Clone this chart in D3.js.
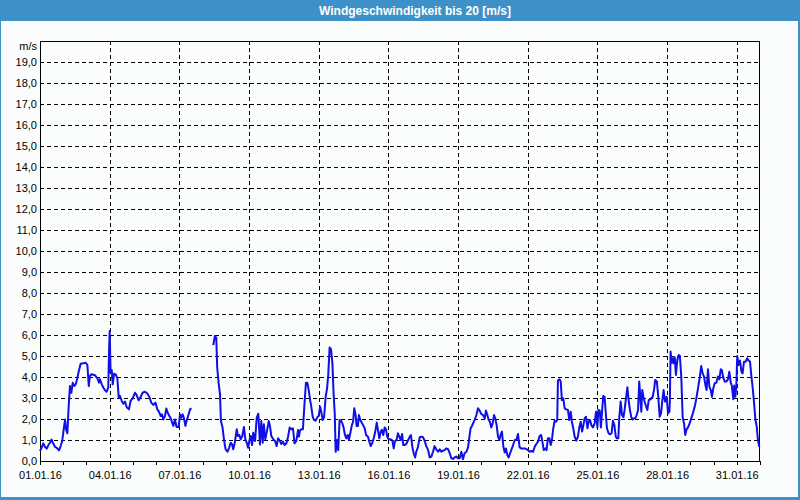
<!DOCTYPE html>
<html><head><meta charset="utf-8">
<script src="https://cdn.jsdelivr.net/npm/d3@7"></script>
<style>
body{margin:0;background:#fff}
svg{display:block}
text{font-family:"Liberation Sans",Arial,sans-serif}
</style>
</head><body>
<svg id="c" width="800" height="500"></svg>
<script>
const title = "Windgeschwindigkeit bis 20 [m/s]";
const unitLabel = "m/s";
const startDate = "01.01.16";
const endDate = "01.02.16";
const yTickValues = [0,1,2,3,4,5,6,7,8,9,10,11,12,13,14,15,16,17,18,19];
const xTickLabels = ["01.01.16","04.01.16","07.01.16","10.01.16","13.01.16","16.01.16","19.01.16","22.01.16","25.01.16","28.01.16","31.01.16"];
// days since 01.01.16 00:00 (null speed = no data)
const days = [
0.00,0.07,0.14,0.22,0.29,0.36,0.43,0.50,0.57,0.65,0.72,0.82,0.89,0.96,1.03,1.08,1.12,1.18,1.23,1.29,
1.35,1.41,1.48,1.55,1.61,1.68,1.75,1.87,1.97,2.04,2.10,2.15,2.22,2.37,2.47,2.54,2.58,2.66,2.73,2.80,
2.87,2.94,2.97,3.00,3.04,3.09,3.13,3.19,3.27,3.33,3.39,3.44,3.52,3.59,3.66,3.73,3.83,3.90,3.99,4.09,
4.16,4.25,4.33,4.42,4.52,4.62,4.71,4.79,4.88,4.97,5.05,5.12,5.20,5.25,5.31,5.38,5.44,5.50,5.57,5.63,
5.68,5.74,5.81,5.88,5.97,6.03,6.08,6.14,6.20,6.26,6.31,6.39,6.46,6.52,7.00,
7.46,7.53,7.59,7.63,7.69,7.75,7.79,7.86,7.92,7.99,8.07,8.14,8.21,8.27,8.32,8.38,8.47,8.52,8.58,8.64,
8.71,8.78,8.84,8.90,8.96,9.01,9.07,9.13,9.18,9.26,9.33,9.40,9.47,9.53,9.59,9.64,9.70,9.76,9.85,9.90,
9.96,10.05,10.12,10.19,
10.25,10.32,10.39,10.46,10.53,10.61,10.68,10.75,10.82,10.89,10.96,11.04,11.11,11.15,11.19,11.25,11.32,11.38,11.45,11.51,
11.57,11.63,11.68,11.74,11.80,11.87,11.94,12.00,12.06,12.11,12.17,12.23,12.30,12.36,12.41,12.47,12.53,12.59,12.64,12.69,
12.73,12.79,12.84,12.90,12.96,13.02,13.07,13.13,13.19,13.25,13.30,13.36,13.42,13.48,13.53,13.59,13.63,13.69,13.73,13.79,
13.85,13.91,13.98,14.04,14.12,14.18,14.24,14.31,14.38,14.44,14.50,14.55,14.61,14.67,14.72,14.78,14.84,14.90,14.95,15.01,
15.10,15.17,15.23,15.28,15.36,15.41,15.47,15.53,15.59,15.64,15.70,15.77,15.84,15.92,15.97,16.03,16.09,16.15,16.20,16.27,
16.35,16.42,16.49,16.56,16.63,16.71,16.78,16.85,16.92,16.99,17.06,17.14,17.21,17.28,17.35,17.42,17.49,17.57,17.64,17.71,
17.78,17.85,17.92,18.00,18.07,18.14,18.21,18.28,18.36,18.43,18.49,18.54,18.60,18.66,18.71,18.79,18.86,18.93,19.00,19.07,
19.15,19.20,19.26,19.32,19.37,19.43,19.49,19.55,19.60,19.66,19.72,19.78,19.83,19.89,19.95,20.01,20.06,20.12,20.18,20.24,
20.29,20.37,20.44,20.51,
20.58,20.65,20.72,20.80,20.87,20.94,21.01,21.08,21.15,21.23,21.30,21.37,21.44,21.51,21.58,21.63,21.69,21.76,21.81,21.87,
21.93,21.99,22.04,22.10,22.16,22.22,22.27,22.30,22.37,22.42,22.47,22.53,22.59,22.66,22.73,22.79,22.85,22.90,22.96,23.02,
23.09,23.16,23.22,23.28,23.34,23.39,23.45,23.51,23.57,23.62,23.68,23.74,23.81,23.88,23.94,24.00,24.04,24.10,24.15,24.21,
24.25,24.31,24.35,24.41,24.48,24.54,24.61,24.67,24.73,24.79,24.84,24.90,24.94,25.00,25.06,25.12,25.17,25.23,25.29,25.34,
25.40,25.46,25.52,25.57,25.63,25.69,25.75,25.80,25.85,25.89,25.93,25.98,26.03,26.09,26.15,26.21,26.29,26.38,26.44,26.49,
26.56,26.62,26.68,26.74,26.79,26.85,26.91,26.98,27.04,27.10,27.12,27.15,27.20,27.24,27.28,27.33,27.38,27.44,27.50,27.55,
27.61,27.67,27.73,27.78,27.84,27.90,27.97,28.04,28.11,28.19,28.26,28.33,28.40,28.47,28.53,28.59,28.65,28.70,28.76,28.82,
28.88,28.93,28.99,29.05,29.12,29.19,29.25,29.31,29.36,29.41,29.48,29.55,29.62,29.68,29.74,29.79,29.85,29.89,29.94,29.98,
30.02,30.08,30.14,30.20,30.25,30.31,30.38,30.45,30.51,30.57,30.63,30.68,30.74,30.80,30.86,30.91,30.97
];
// wind speed in m/s
const speeds = [
0.48,0.63,0.84,0.67,0.59,0.76,0.87,1.02,0.83,0.67,0.63,0.51,0.71,0.98,1.59,1.98,1.50,1.32,2.50,3.57,
3.25,3.73,3.57,3.68,3.97,4.32,4.63,4.65,4.68,4.57,3.57,4.05,4.13,4.08,3.94,3.73,3.89,3.65,3.49,3.37,
3.30,3.49,5.08,6.19,4.20,4.32,3.65,4.16,4.10,3.94,3.02,3.10,2.86,2.73,2.83,2.57,2.46,2.86,2.98,3.25,
3.14,2.89,3.05,3.25,3.30,3.21,3.05,2.78,2.67,2.78,2.46,2.35,2.14,2.22,1.98,2.14,2.50,2.30,2.14,2.03,
1.86,1.67,1.98,1.62,1.62,2.22,2.06,2.22,2.03,1.67,1.90,2.19,2.46,2.51,null,
5.52,5.95,5.87,4.44,3.73,3.17,1.90,1.59,1.03,0.56,0.44,0.63,0.87,0.79,0.56,0.83,1.51,1.19,1.24,1.03,
1.19,1.62,1.03,0.87,0.63,0.95,1.19,0.76,1.35,0.95,2.06,2.25,0.79,1.90,0.87,1.75,1.03,1.35,1.90,1.67,
1.19,1.03,0.95,0.71,
1.08,0.97,0.81,0.92,0.76,0.84,1.16,1.60,1.51,1.56,0.84,0.97,1.48,1.16,1.44,1.51,1.51,2.59,3.73,3.73,
3.38,2.90,2.59,2.11,1.95,1.92,2.08,2.14,2.59,2.35,1.95,2.08,3.06,3.46,4.10,5.41,5.32,4.65,3.22,2.27,
0.44,1.00,0.52,1.95,1.92,1.79,1.60,1.24,1.08,1.24,1.00,1.32,1.67,1.87,2.51,2.19,1.67,1.67,2.19,1.95,
1.83,1.71,1.56,1.24,1.16,0.92,0.71,0.87,1.13,1.44,1.83,1.48,1.08,1.40,1.48,1.24,1.60,1.51,1.16,1.03,
1.03,0.97,0.60,0.92,1.03,1.32,1.16,1.00,1.29,0.76,0.76,0.81,0.97,1.16,1.24,0.68,0.37,0.17,0.44,0.65,
1.13,1.16,1.13,0.97,0.71,0.52,0.17,0.21,0.44,0.71,0.56,0.44,0.56,0.44,0.49,0.52,0.60,0.56,0.37,0.13,
0.10,0.17,0.21,0.13,0.13,0.44,0.08,0.37,0.44,0.65,1.16,1.56,1.67,1.83,1.95,2.19,2.51,2.40,2.24,2.19,
2.03,2.40,2.19,1.95,1.87,1.60,1.79,2.19,2.03,1.71,1.16,1.00,1.24,1.40,0.68,0.40,0.60,0.29,0.17,0.37,
0.52,0.76,1.00,1.00,
1.29,0.65,0.60,0.60,0.60,0.57,0.52,0.44,0.48,0.44,0.68,0.81,0.92,1.19,1.24,0.92,0.52,0.60,0.52,1.08,
1.08,0.76,1.00,1.56,1.92,1.87,1.95,3.83,3.89,3.78,2.90,2.98,2.51,2.46,2.43,1.95,2.35,1.87,1.56,1.16,
0.97,1.16,1.60,1.87,1.40,1.67,2.03,2.11,1.56,1.87,1.95,1.71,1.60,1.79,2.35,1.60,2.43,2.40,1.60,2.51,
3.10,3.06,2.43,1.56,1.32,1.27,1.32,1.92,1.71,1.16,1.08,1.08,2.03,2.83,2.19,2.08,2.43,2.98,3.51,2.94,
2.43,2.08,1.98,2.03,2.03,2.19,2.43,3.78,2.98,2.35,3.38,3.06,2.83,2.62,2.43,2.90,2.94,3.06,3.41,3.86,
3.78,3.06,2.11,2.27,2.83,3.38,2.83,3.06,2.27,2.35,2.90,5.21,4.68,4.89,4.65,4.94,4.10,4.81,5.05,5.00,
4.02,2.08,1.79,1.24,1.51,1.60,1.79,2.03,2.27,2.59,2.98,3.46,3.94,4.52,4.17,4.02,3.62,3.38,4.37,3.54,
3.38,3.06,3.46,3.70,3.73,4.02,3.89,4.37,4.33,4.02,3.78,3.78,3.89,4.25,3.73,3.57,2.94,3.59,3.06,3.54,
5.00,4.57,4.78,4.25,4.17,4.73,4.73,4.89,4.78,4.73,4.02,3.54,2.83,1.98,1.63,1.00,0.68
];

const parse = d3.utcParse("%d.%m.%y");
const fmt = d3.utcFormat("%d.%m.%y");
const t0 = parse(startDate), t1 = parse(endDate);
const data = days.map((d,i) => ({t: new Date(t0.getTime() + d*864e5), v: speeds[i]}));

const W = 800, H = 500;
const plot = {left: 40, right: 760, top: 41, bottom: 461};
const svg = d3.select("#c");

// frame
svg.append("rect").attr("x",0).attr("y",0).attr("width",W).attr("height",H).attr("fill","#3d91c8");
svg.append("rect").attr("x",1).attr("y",21).attr("width",797).attr("height",476).attr("fill","#fbfdfc");
svg.append("text").attr("x",415).attr("y",15).attr("text-anchor","middle")
  .attr("fill","#ffffff").attr("font-size","12px").attr("font-weight","bold").text(title);

const x = d3.scaleUtc().domain([t0, t1]).range([plot.left, plot.right]);
const y = d3.scaleLinear().domain([0, 20]).range([plot.bottom, plot.top]);

// grid
const g = svg.append("g");
g.selectAll("line.hg").data(yTickValues.filter(v => v > 0)).join("line")
  .attr("x1", plot.left).attr("x2", plot.right)
  .attr("y1", d => y(d)+0.5).attr("y2", d => y(d)+0.5)
  .attr("stroke","#000").attr("stroke-width",1).attr("stroke-dasharray","4,3").attr("shape-rendering","crispEdges");
const xMajor = xTickLabels.map(parse);
g.selectAll("line.vg").data(xMajor.slice(1)).join("line")
  .attr("x1", d => Math.round(x(d))+0.5).attr("x2", d => Math.round(x(d))+0.5)
  .attr("y1", plot.top).attr("y2", plot.bottom)
  .attr("stroke","#000").attr("stroke-width",1).attr("stroke-dasharray","4,3").attr("shape-rendering","crispEdges");

// x axis
const xAxis = d3.axisBottom(x).ticks(d3.utcDay.every(1)).tickSize(4)
  .tickFormat(d => xTickLabels.includes(fmt(d)) ? fmt(d) : "");
const xa = svg.append("g").attr("transform",`translate(0,${plot.bottom})`).call(xAxis);
xa.select(".domain").remove();
xa.selectAll(".tick line").attr("stroke","#000").attr("shape-rendering","crispEdges");
xa.selectAll(".tick text").attr("font-size","11px").attr("fill","#000").attr("font-family","Liberation Sans, Arial, sans-serif").attr("dy","0.95em").attr("y",8);

// y axis
const yAxis = d3.axisLeft(y).tickValues(yTickValues).tickSize(0).tickPadding(3)
  .tickFormat(d => d3.format(".1f")(d).replace(".", ","));
const ya = svg.append("g").attr("transform",`translate(${plot.left},0)`).call(yAxis);
ya.select(".domain").remove();
ya.selectAll(".tick text").attr("font-size","11px").attr("fill","#000").attr("font-family","Liberation Sans, Arial, sans-serif");
svg.append("text").attr("x", plot.left-3).attr("y", 50).attr("text-anchor","end")
  .attr("font-size","11px").attr("fill","#000").text(unitLabel);

// plot border
svg.append("rect").attr("x",plot.left+0.5).attr("y",plot.top+0.5)
  .attr("width",plot.right-plot.left-1).attr("height",plot.bottom-plot.top)
  .attr("fill","none").attr("stroke","#000").attr("stroke-width",1).attr("shape-rendering","crispEdges");

// line
const line = d3.line().defined(d => d.v !== null).x(d => x(d.t)).y(d => y(d.v)).curve(d3.curveLinear);
svg.append("path").datum(data).attr("d", line)
  .attr("fill","none").attr("stroke","#0f0fe6").attr("stroke-width",2).attr("stroke-linejoin","round");
</script>
</body></html>
